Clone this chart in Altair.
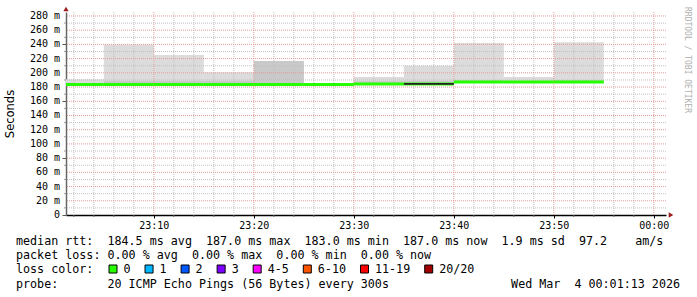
import altair as alt
import pandas as pd

# ---------------- data ----------------
seg_start = ["23:01:13", "23:05", "23:10", "23:15", "23:20", "23:25",
             "23:30", "23:35", "23:40", "23:45", "23:50"]
seg_end = ["23:05", "23:10", "23:15", "23:20", "23:25", "23:30",
           "23:35", "23:40", "23:45", "23:50", "23:55"]
smoke_lo = [183.0, 183.0, 183.0, 183.0, 183.0, 183.0, 183.5, 183.0, 186.0, 186.0, 186.0]
smoke_hi = [191.0, 240.0, 225.0, 201.0, 216.5, 184.0, 194.0, 210.0, 242.0, 194.0, 243.0]
smoke_mid = [184.0, 189.0, 189.0, 189.0, 216.5, 184.0, 188.0, 189.0, 189.5, 188.5, 190.0]
median = [183.5, 183.5, 183.5, 183.5, 183.5, 183.5, 184.3, 184.3, 187.0, 187.0, 187.0]

dense_start = ["23:35"]
dense_end = ["23:40"]
dense_lo = [183.2]
dense_hi = [185.6]

x_major = ["23:10", "23:20", "23:30", "23:40", "23:50", "00:00"]
y_labels_at = [0, 20, 40, 60, 80, 100, 120, 140, 160, 180, 200, 220, 240, 260, 280]
y_major = [20, 40, 60, 80, 100, 120, 140, 160, 180, 200, 220, 240, 260, 280]
y_minor = [10, 30, 50, 70, 90, 110, 130, 150, 170, 190, 210, 230, 250, 270]

legend_line1 = "median rtt:  184.5 ms avg  187.0 ms max  183.0 ms min  187.0 ms now  1.9 ms sd  97.2    am/s"
legend_line2 = "packet loss: 0.00 % avg  0.00 % max  0.00 % min  0.00 % now"
legend_line3 = "loss color:"
legend_line4 = "probe:       20 ICMP Echo Pings (56 Bytes) every 300s"
date_text = "Wed Mar  4 00:01:13 2026"
loss_labels = ["0", "1", "2", "3", "4-5", "6-10", "11-19", "20/20"]
loss_colors = ["#26ff00", "#00b8ff", "#0059ff", "#7e00ff", "#ff00ff", "#ff5500", "#ff0000", "#a00000"]
y_title = "Seconds"
watermark = "RRDTOOL / TOBI OETIKER"


def ts(hm):
    day = "2026-03-04" if hm.startswith("00") else "2026-03-03"
    if hm.count(":") == 1:
        hm = hm + ":00"
    return f"{day}T{hm}"


def minor_times():
    out = []
    for h, m in [(23, mm) for mm in range(2, 60, 2)] + [(0, 0)]:
        if m % 10 != 0:
            out.append(ts(f"{h:02d}:{m:02d}"))
    return out


def nb(s):
    return s.replace(" ", "\u00a0")


segs = pd.DataFrame({
    "t0": [ts(s) for s in seg_start],
    "t1": [ts(s) for s in seg_end],
    "lo": smoke_lo, "hi": smoke_hi, "mid": smoke_mid, "med": median,
})
dense = pd.DataFrame({"t0": [ts(s) for s in dense_start], "t1": [ts(s) for s in dense_end],
                      "lo": dense_lo, "hi": dense_hi})
xmaj = pd.DataFrame({"t": [ts(s) for s in x_major]})
xmin = pd.DataFrame({"t": minor_times()})
ymaj = pd.DataFrame({"v": y_major})
ymin = pd.DataFrame({"v": y_minor})
ylab = pd.DataFrame({"v": y_labels_at,
                     "s": [nb("0" if v == 0 else f"{v} m") for v in y_labels_at]})

MONO = "DejaVu Sans Mono"
W, H = 600, 203
xdom = [alt.DateTime(year=2026, month=3, date=3, hours=23, minutes=1, seconds=13),
        alt.DateTime(year=2026, month=3, date=4, hours=0, minutes=1, seconds=13)]
xscale = alt.Scale(domain=xdom)
yscale = alt.Scale(domain=[0, 285.6], nice=False, zero=False)

tick_vals = [alt.DateTime(year=2026, month=3, date=3, hours=23, minutes=m) for m in range(10, 60, 10)] + \
            [alt.DateTime(year=2026, month=3, date=4, hours=0, minutes=0)]

x_axis = alt.Axis(values=tick_vals, format="%H:%M",
                  grid=False, domainColor="#000000", domainWidth=1.5, tickColor="#000000", tickSize=3,
                  labelFont=MONO, labelFontSize=10, labelColor="#000000", labelPadding=2, title=None,
                  labelOverlap=False, labelFlush=False)
y_axis = alt.Axis(values=y_labels_at, labels=False,
                  grid=False, domainColor="#666666", domainWidth=1.5, tickColor="#555555", tickSize=4,
                  title=None)

base = alt.Chart(segs)

smoke = base.mark_rect(color="#dcdcdc").encode(
    x=alt.X("t0:T", scale=xscale, axis=x_axis), x2="t1:T",
    y=alt.Y("lo:Q", scale=yscale, axis=y_axis), y2="hi:Q")
smoke2 = base.mark_rect(color="#c9c9c9").encode(
    x=alt.X("t0:T"), x2="t1:T", y=alt.Y("lo:Q"), y2="mid:Q")

grid_dash = [1, 1]
gx_min = alt.Chart(xmin).mark_rule(color="#c0c0c0", strokeDash=grid_dash, strokeWidth=1).encode(x=alt.X("t:T"))
gx_maj = alt.Chart(xmaj).mark_rule(color="#e39a9a", strokeDash=grid_dash, strokeWidth=1).encode(x=alt.X("t:T"))
gy_min = alt.Chart(ymin).mark_rule(color="#c0c0c0", strokeDash=grid_dash, strokeWidth=1).encode(y=alt.Y("v:Q"))
gy_maj = alt.Chart(ymaj).mark_rule(color="#e39a9a", strokeDash=grid_dash, strokeWidth=1).encode(y=alt.Y("v:Q"))

# minor tick marks
ty_min = alt.Chart(ymin).mark_rule(color="#999999", strokeWidth=1).encode(
    y=alt.Y("v:Q"), x=alt.value(-2), x2=alt.value(0))
tx_min = alt.Chart(xmin).mark_rule(color="#666666", strokeWidth=1).encode(
    x=alt.X("t:T"), y=alt.value(H), y2=alt.value(H + 2))

ylabels = alt.Chart(ylab).mark_text(align="right", baseline="middle", font=MONO, fontSize=10,
                                     color="#000000").encode(
    y=alt.Y("v:Q"), text="s:N", x=alt.value(-6))

med = base.mark_rule(color="#26ff00", strokeWidth=3).encode(
    x=alt.X("t0:T"), x2="t1:T", y=alt.Y("med:Q"))
dense_band = alt.Chart(dense).mark_rect(color="#222222").encode(
    x=alt.X("t0:T"), x2="t1:T", y=alt.Y("lo:Q"), y2="hi:Q")

one = pd.DataFrame({"a": [0]})
arrow_up = alt.Chart(one).mark_point(shape="triangle-up", filled=True, color="#9b1c1c", size=28, opacity=1).encode(
    x=alt.value(0), y=alt.value(-3))
arrow_right = alt.Chart(one).mark_point(shape="triangle-right", filled=True, color="#9b1c1c", size=28, opacity=1).encode(
    x=alt.value(W + 5), y=alt.value(H))


def txt(s, x, y, align="left", font=MONO, size=11.7, color="#000000", angle=0):
    kw = dict(align=align, baseline="middle", font=font, fontSize=size, color=color)
    if angle:
        kw["angle"] = angle
    return alt.Chart(pd.DataFrame({"s": [nb(s)]})).mark_text(**kw).encode(
        text="s:N", x=alt.value(x), y=alt.value(y))


LX = 16 - 66
texts = [
    txt(legend_line1, LX, 241 - 12),
    txt(legend_line2, LX, 255 - 12),
    txt(legend_line3, LX, 269 - 12),
    txt(legend_line4, LX, 284 - 12),
    txt(date_text, 680 - 66, 284 - 12, align="right"),
    txt(y_title, 11 - 66, 114 - 12, align="center", font="DejaVu Sans", size=11.5, angle=270),
    txt(watermark, 687 - 66, 60 - 12, align="center", size=8.0, color="#b0b0b0", angle=90),
]

# loss colour boxes
CW = 11.7 * 0.6021
bx = 109 - 66
for lab, col in zip(loss_labels, loss_colors):
    texts.append(alt.Chart(pd.DataFrame({"s": [lab]})).mark_square(
        color=col, filled=True, stroke="#000000", strokeWidth=1, size=64, opacity=1).encode(
        x=alt.value(bx + 4), y=alt.value(269 - 12)))
    texts.append(txt(lab, bx + 14.5, 269 - 12))
    bx = bx + 14.5 + len(lab) * CW + 14.5

chart = alt.layer(
    smoke, smoke2, gx_min, gy_min, gx_maj, gy_maj, ty_min, tx_min, ylabels,
    med, dense_band, arrow_up, arrow_right, *texts
).properties(
    width=W, height=H,
    padding={"left": 66, "top": 12, "right": 31, "bottom": 82},
    autosize=alt.AutoSizeParams(type="none"),
    background="#ffffff",
).configure_view(stroke=None).configure_axis(labelOverlap=False, title=None)

chart.save("out.html", embed_options={"renderer": "svg", "actions": False})
